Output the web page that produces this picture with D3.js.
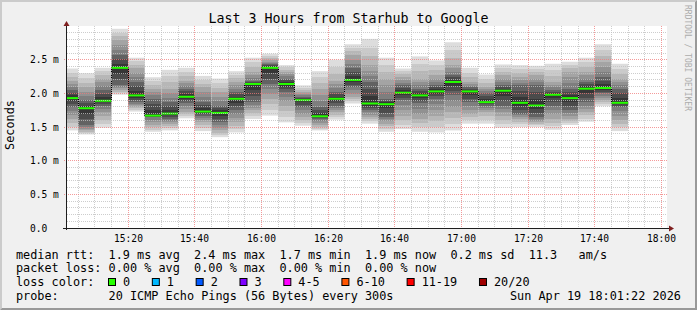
<!DOCTYPE html>
<html>
<head>
<meta charset="utf-8">
<script src="https://cdn.jsdelivr.net/npm/d3@7/dist/d3.min.js"></script>
<style>
body{margin:0;background:#fff}
svg{display:block}
text{font-family:"DejaVu Sans Mono",monospace;white-space:pre}
</style>
</head>
<body>
<svg id="chart" width="697" height="310"></svg>
<script>
// 5 minute bins starting 15:00 (first is cut by the window start)
var binCount = 34;

// rtt in ms: outer edges, mid grey, dark core and median
var maxRtt    = [2.37,2.30,2.38,2.96,2.53,2.24,2.35,2.38,2.26,2.22,2.33,2.53,2.59,2.42,2.12,2.33,2.50,2.73,2.81,2.53,2.37,2.55,2.49,2.76,2.38,2.28,2.43,2.42,2.41,2.44,2.47,2.53,2.73,2.44];
var upperMid  = [2.19,2.09,2.22,2.79,2.37,2.07,2.07,2.19,2.09,2.02,2.17,2.32,2.49,2.32,2.02,2.07,2.19,2.57,2.42,2.22,2.24,2.22,2.27,2.42,2.17,2.09,2.27,2.24,2.27,2.17,2.32,2.32,2.47,2.22];
var upperCore = [2.05,1.90,2.05,2.57,2.17,1.92,1.87,2.07,1.87,1.82,2.02,2.19,2.44,2.22,1.95,1.80,2.02,2.37,2.17,1.92,2.12,2.07,2.12,2.27,2.09,2.00,2.12,2.12,2.12,2.05,2.07,2.17,2.24,2.07];
var median    = [1.93,1.78,1.89,2.38,1.97,1.67,1.70,1.95,1.73,1.71,1.92,2.14,2.38,2.14,1.90,1.66,1.92,2.20,1.85,1.84,2.01,1.97,2.03,2.17,2.03,1.87,2.04,1.86,1.82,1.98,1.93,2.07,2.08,1.86];
var lowerCore = [1.80,1.53,1.82,2.12,1.87,1.65,1.62,1.85,1.67,1.57,1.75,1.87,2.14,2.02,1.80,1.62,1.82,2.09,1.75,1.65,1.90,1.85,1.92,1.97,1.87,1.82,1.82,1.70,1.65,1.82,1.75,1.87,2.00,1.80];
var lowerMid  = [1.62,1.45,1.67,2.05,1.80,1.53,1.55,1.72,1.57,1.45,1.57,1.75,1.92,1.82,1.65,1.53,1.72,1.95,1.65,1.55,1.67,1.62,1.67,1.72,1.70,1.72,1.67,1.62,1.57,1.62,1.62,1.72,1.90,1.60];
var minRtt    = [1.45,1.39,1.49,1.98,1.73,1.43,1.45,1.63,1.44,1.35,1.42,1.62,1.67,1.57,1.52,1.45,1.61,1.85,1.55,1.43,1.47,1.43,1.42,1.45,1.55,1.55,1.49,1.50,1.50,1.46,1.53,1.58,1.81,1.44];

var yTicks = [0, 0.5, 1.0, 1.5, 2.0, 2.5];
var yTickLabels = ["0.0", "0.5 m", "1.0 m", "1.5 m", "2.0 m", "2.5 m"];

var rttStats  = [["1.9","ms avg"],["2.4","ms max"],["1.7","ms min"],["1.9","ms now"],["0.2","ms sd"],["11.3","  am/s"]];
var lossStats = [["0.00","% avg"],["0.00","% max"],["0.00","% min"],["0.00","% now"]];
var lossLabels = ["0","1","2","3","4-5","6-10","11-19","20/20"];
var lossColors = ["#26ff00","#00b8ff","#0059ff","#7e00ff","#ff00ff","#ff5500","#ff0000","#a00000"];

var title = "Last 3 Hours from Starhub to Google";
var probeText = "20 ICMP Echo Pings (56 Bytes) every 300s";
var stamp = "Sun Apr 19 18:01:22 2026";

// smoke shades, outer to inner (smokeping style)
var shades = ["#dddddd","#cacaca","#b7b7b7","#a4a4a4","#919191","#7e7e7e","#626262","#4b4b4b","#363636"];

var W = 697, H = 310;
var plot = {left:66, right:666, top:26, bottom:228};

var tStart = new Date(2026,3,19,15,1,22);
var tEnd   = new Date(2026,3,19,18,1,22);
var firstBin = new Date(2026,3,19,15,0,0);

var x = d3.scaleTime().domain([tStart,tEnd]).range([plot.left,plot.right]);
var y = d3.scaleLinear().domain([0,3]).range([plot.bottom,plot.bottom-3*67.3]);

var bins = d3.range(binCount).map(function(i){
    return {
        i:i,
        t0:d3.timeMinute.offset(firstBin,5*i),
        t1:d3.timeMinute.offset(firstBin,5*i+5),
        max:maxRtt[i], um:upperMid[i], uc:upperCore[i], med:median[i],
        lc:lowerCore[i], lm:lowerMid[i], min:minRtt[i]
    };
});

var svg = d3.select("#chart");
var px = function(v){ return Math.floor(v)+0.5; };

// background and rrdtool style bevel
svg.append("rect").attr("width",W).attr("height",H).attr("fill","#f0f0f0");
svg.append("path").attr("d","M0,0H"+W+"L"+(W-2)+",2H2V"+(H-2)+"L0,"+H+"Z").attr("fill","#cbcbcb");
svg.append("path").attr("d","M"+W+",0V"+H+"H0L2,"+(H-2)+"H"+(W-2)+"V2Z").attr("fill","#999999");

svg.append("rect")
    .attr("x",plot.left+1).attr("y",plot.top)
    .attr("width",plot.right-plot.left).attr("height",plot.bottom-plot.top)
    .attr("fill","#ffffff");

var defs = svg.append("defs");
defs.append("clipPath").attr("id","plotclip")
    .append("rect")
    .attr("x",plot.left).attr("y",plot.top)
    .attr("width",plot.right-plot.left+1).attr("height",plot.bottom-plot.top);

// one stepped gradient per bin for the smoke
bins.forEach(function(b){
    var top = y(b.max), bot = y(b.min);
    var off = function(py){ return Math.max(0,Math.min(1,(py-top)/(bot-top))); };
    var g = defs.append("linearGradient")
        .attr("id","smoke"+b.i)
        .attr("gradientUnits","userSpaceOnUse")
        .attr("x1",0).attr("x2",0).attr("y1",top).attr("y2",bot);
    var upper = [b.max,b.um,b.uc,b.med].map(y);
    var lower = [b.med,b.lc,b.lm,b.min].map(y);
    var k = 0;
    var band = function(a,c,col){
        g.append("stop").attr("offset",off(a)).attr("stop-color",col);
        g.append("stop").attr("offset",off(c)).attr("stop-color",col);
    };
    // top half, light to dark
    for (var s=0; s<3; s++) {
        for (var j=0; j<3; j++) {
            var a = upper[s]+(upper[s+1]-upper[s])*j/3;
            var c = upper[s]+(upper[s+1]-upper[s])*(j+1)/3;
            band(a,c,shades[s*3+j]);
        }
    }
    // bottom half, dark to light
    for (s=0; s<3; s++) {
        for (j=0; j<3; j++) {
            a = lower[s]+(lower[s+1]-lower[s])*j/3;
            c = lower[s]+(lower[s+1]-lower[s])*(j+1)/3;
            band(a,c,shades[8-(s*3+j)]);
        }
    }
});

var data = svg.append("g").attr("clip-path","url(#plotclip)");

data.selectAll("rect.smoke")
    .data(bins)
    .enter()
    .append("rect")
    .attr("class","smoke")
    .attr("x",function(b){ return x(b.t0); })
    .attr("width",function(b){ return x(b.t1)-x(b.t0); })
    .attr("y",function(b){ return y(b.max); })
    .attr("height",function(b){ return y(b.min)-y(b.max); })
    .attr("fill",function(b){ return "url(#smoke"+b.i+")"; });

// median: black steps, green band for 0 loss
var stepPts = bins.map(function(b){ return [px(x(b.t0)), y(b.med)]; });
stepPts.push([px(x(bins[binCount-1].t1)), y(bins[binCount-1].med)]);
data.append("path")
    .attr("d",d3.line().curve(d3.curveStepAfter)(stepPts))
    .attr("fill","none")
    .attr("stroke","#000")
    .attr("stroke-width",1);

data.selectAll("rect.med")
    .data(bins)
    .enter()
    .append("rect")
    .attr("class","med")
    .attr("x",function(b){ return x(b.t0); })
    .attr("width",function(b){ return x(b.t1)-x(b.t0); })
    .attr("y",function(b){ return y(b.med)-1; })
    .attr("height",2)
    .attr("fill",lossColors[0]);

// grid, drawn over the data like rrdtool does
var grid = svg.append("g");
var minorTimes = d3.timeMinute.every(5).range(d3.timeMinute.offset(firstBin,5), tEnd);
var majorTimes = d3.timeMinute.every(20).range(d3.timeMinute.offset(firstBin,5), tEnd);

grid.selectAll("line.vmin")
    .data(minorTimes.filter(function(t){ return t.getMinutes()%20!==0; }))
    .enter().append("line")
    .attr("x1",function(t){ return px(x(t)); }).attr("x2",function(t){ return px(x(t)); })
    .attr("y1",plot.top).attr("y2",plot.bottom)
    .attr("stroke","rgba(192,192,192,0.8)").attr("stroke-dasharray","1,1");

d3.range(1,30).filter(function(k){ return k%5!==0; }).forEach(function(k){
    grid.append("line")
        .attr("x1",plot.left+1).attr("x2",plot.right+1)
        .attr("y1",px(y(k/10))).attr("y2",px(y(k/10)))
        .attr("stroke","rgba(192,192,192,0.8)").attr("stroke-dasharray","1,1");
});

grid.selectAll("line.vmaj")
    .data(majorTimes)
    .enter().append("line")
    .attr("x1",function(t){ return px(x(t)); }).attr("x2",function(t){ return px(x(t)); })
    .attr("y1",plot.top).attr("y2",plot.bottom+2)
    .attr("stroke","rgba(240,120,120,0.75)").attr("stroke-dasharray","1,1");

grid.selectAll("line.hmaj")
    .data(yTicks.slice(1))
    .enter().append("line")
    .attr("x1",plot.left-2).attr("x2",plot.right+2)
    .attr("y1",function(v){ return px(y(v)); }).attr("y2",function(v){ return px(y(v)); })
    .attr("stroke","rgba(240,120,120,0.75)").attr("stroke-dasharray","1,1");

// axes
var axisCol = "#1e1e1e", arrowCol = "#7f1f1f";
svg.append("line").attr("x1",plot.left-3).attr("x2",plot.right+3)
    .attr("y1",plot.bottom+0.5).attr("y2",plot.bottom+0.5).attr("stroke",axisCol);
svg.append("line").attr("x1",plot.left+0.5).attr("x2",plot.left+0.5)
    .attr("y1",plot.bottom+2).attr("y2",plot.top-3).attr("stroke",axisCol);
svg.append("path").attr("d","M"+(plot.right+3)+","+(plot.bottom-2.5)+"L"+(plot.right+8)+","+(plot.bottom+0.5)+"L"+(plot.right+3)+","+(plot.bottom+3.5)+"Z").attr("fill",arrowCol);
svg.append("path").attr("d","M"+(plot.left-2.5)+","+(plot.top)+"L"+(plot.left+0.5)+","+(plot.top-5)+"L"+(plot.left+3.5)+","+(plot.top)+"Z").attr("fill",arrowCol);

// tick labels
svg.selectAll("text.ylab")
    .data(yTicks)
    .enter().append("text")
    .attr("x",30)
    .attr("y",function(v){ return px(y(v))+3.5; })
    .attr("font-size","9.6px").attr("fill","#000")
    .text(function(v,i){ return yTickLabels[i]; });

svg.selectAll("text.xlab")
    .data(majorTimes)
    .enter().append("text")
    .attr("x",function(t){ return px(x(t)); })
    .attr("y",241.5)
    .attr("text-anchor","middle")
    .attr("font-size","9.6px").attr("fill","#000")
    .text(d3.timeFormat("%H:%M"));

// titles
svg.append("text").attr("x",348.5).attr("y",23).attr("text-anchor","middle")
    .attr("font-size","13.3px").attr("fill","#000").text(title);
svg.append("text").attr("transform","translate(13.5,125) rotate(-90)")
    .attr("text-anchor","middle").attr("font-size","11.84px").attr("fill","#000").text("Seconds");
svg.append("text").attr("transform","translate(685,5) rotate(90)")
    .attr("font-size","8px").attr("fill","#acacac").text("RRDTOOL / TOBI OETIKER");

// legend
var legend = svg.append("g").attr("font-size","11.84px").attr("fill","#000");
var rowY = [258.5, 272.3, 286, 299.8];
var row = function(s,r,xx){
    return legend.append("text").attr("x",xx||16).attr("y",rowY[r])
        .attr("xml:space","preserve").text(s);
};
row("median rtt:  " + rttStats.map(function(s){ return s[0]+" "+s[1]; }).join("  "), 0);
row("packet loss: " + lossStats.map(function(s){ return s[0]+" "+s[1]; }).join("  "), 1);
row("loss color:", 2);
row("probe:       " + probeText, 3);
row(stamp, 3, 510);

var bx = 108;
lossLabels.forEach(function(l,i){
    legend.append("rect").attr("x",bx+0.5).attr("y",278.5).attr("width",7).attr("height",7)
        .attr("fill",lossColors[i]).attr("stroke","#000");
    legend.append("text").attr("x",bx+15).attr("y",rowY[2]).text(l);
    bx += 15 + l.length*7.13 + 21.7;
});
</script>
</body>
</html>
